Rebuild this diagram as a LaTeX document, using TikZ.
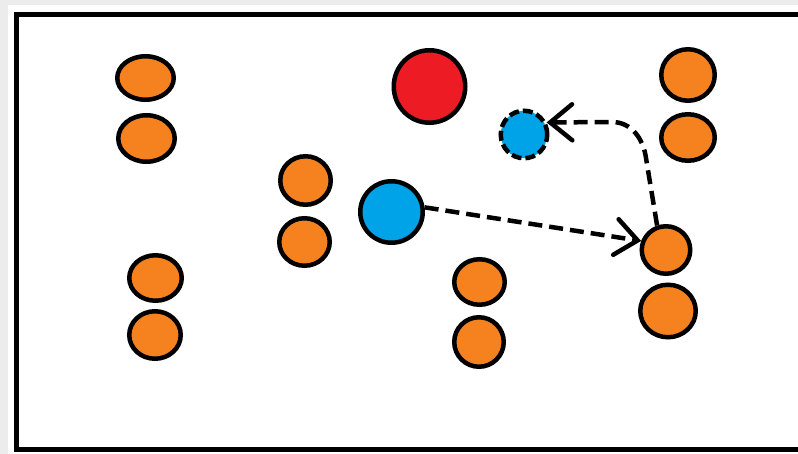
\documentclass[tikz,border=0pt]{standalone}
\usetikzlibrary{shapes.geometric,arrows.meta}
\definecolor{pOrange}{HTML}{F6821F}
\definecolor{pRed}{HTML}{ED1C24}
\definecolor{pBlue}{HTML}{00A2E8}
\definecolor{pBg}{HTML}{ECECEC}
\tikzset{
  disc/.style={ellipse, draw=black, line width=4.5pt, inner sep=0pt},
  opp/.style={disc, fill=pOrange},
  movepath/.style={draw=black, line width=4.5pt, dash pattern=on 14pt off 7pt},
  barb/.style={-{Straight Barb[length=22pt,width=36pt,line width=4.5pt,line cap=round]}}
}
\begin{document}
\begin{tikzpicture}[x=1pt,y=-1pt]
\useasboundingbox (0,0) rectangle (798,454);
\begin{scope}
\clip (0,0) rectangle (798,454);
\fill[pBg] (0,0) rectangle (798,454);
\fill[white] (8,5) rectangle (798,454);
\draw[line width=5pt, fill=white] (16.5,14.5) rectangle (810,449.5);
\end{scope}
% orange players
\node[opp, minimum width=56.5pt, minimum height=43.5pt] (o1) at (145.5,78) {};
\node[opp, minimum width=56.5pt, minimum height=46.5pt] (o2) at (146.5,138.5) {};
\node[opp, minimum width=52.5pt, minimum height=45.5pt] (o3) at (155.5,278) {};
\node[opp, minimum width=51.5pt, minimum height=47.5pt] (o4) at (155,335) {};
\node[opp, minimum width=50.5pt, minimum height=48.5pt] (o5) at (305.5,180.5) {};
\node[opp, minimum width=50.5pt, minimum height=47.5pt] (o6) at (304.5,242) {};
\node[opp, minimum width=50.5pt, minimum height=45.5pt] (o7) at (479.5,282) {};
\node[opp, minimum width=49.5pt, minimum height=49.5pt] (o8) at (479,342) {};
\node[opp, minimum width=53.5pt, minimum height=51.5pt] (o9) at (688,75) {};
\node[opp, minimum width=53.5pt, minimum height=46.5pt] (o10) at (688,137.5) {};
\node[opp, minimum width=48.5pt, minimum height=47.5pt] (o11) at (666,250) {};
\node[opp, minimum width=55.5pt, minimum height=52.5pt] (o12) at (668,311) {};
% red
\node[disc, fill=pRed, minimum width=71.5pt, minimum height=72.5pt] (red) at (429.5,86.5) {};
% blue
\node[disc, fill=pBlue, minimum width=62.5pt, minimum height=61.5pt] (blue) at (391.5,212) {};
\node[disc, fill=pBlue, dash pattern=on 10pt off 4pt, minimum width=46.5pt, minimum height=47.5pt] (sblue) at (524,134.5) {};
% movements
\draw[movepath, barb] (blue.8) -- (o11.160);
\coordinate (bendA) at (646,158);
\coordinate (bendB) at (612,122);
\draw[movepath, barb] (o11.110) -- (bendA) to[out=98,in=0] (bendB) -- (sblue.28);
\end{tikzpicture}
\end{document}
